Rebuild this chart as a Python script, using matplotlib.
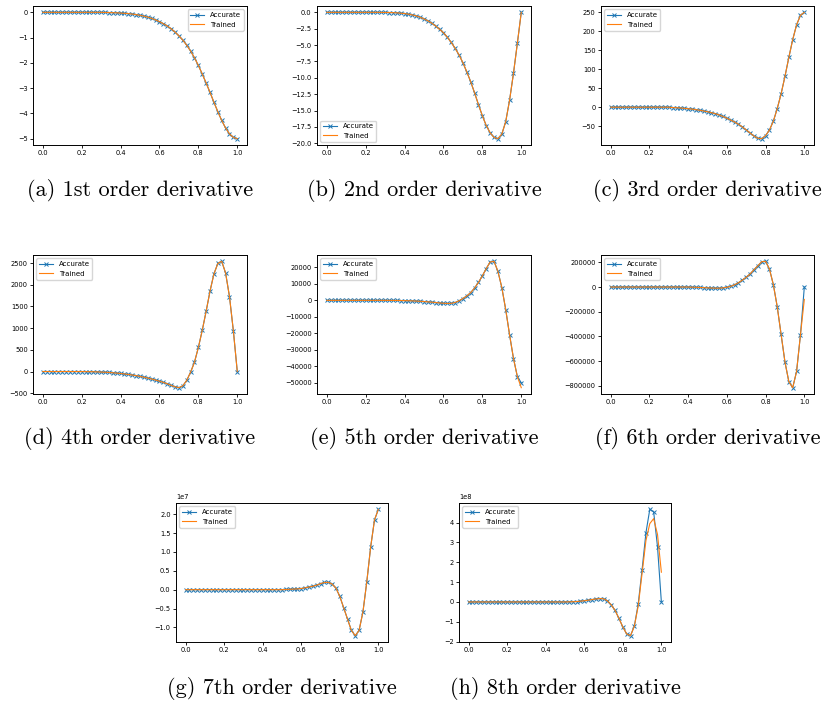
import numpy as np
from matplotlib import pyplot as plt

# x positions of the sampled points (0 .. 1, step 0.02)
x = np.linspace(0, 1, 51)

d1 = [0]*16 + [-0.005, -0.01, -0.015, -0.02, -0.03, -0.04, -0.05, -0.07, -0.09, -0.12,
               -0.15, -0.19, -0.24, -0.30, -0.37, -0.45, -0.54, -0.65, -0.78, -0.93,
               -1.10, -1.30, -1.53, -1.80, -2.10, -2.44, -2.80, -3.17, -3.56, -3.93,
               -4.28, -4.58, -4.81, -4.95, -5.00]

d2 = [0]*14 + [-0.01, -0.02, -0.03, -0.05, -0.08, -0.13, -0.19, -0.28, -0.4, -0.55,
               -0.75, -1.0, -1.3, -1.65, -2.1, -2.6, -3.1, -3.8, -4.6, -5.5,
               -6.5, -7.7, -9.1, -10.6, -12.3, -14.1, -15.8, -17.3, -18.4, -19.1,
               -19.3, -18.6, -16.7, -13.4, -9.3, -4.7, 0.0]

d3 = [0]*16 + [-1, -1.5, -2, -3, -4, -5, -6.5, -8, -10, -12,
               -14.5, -17, -20.5, -24.5, -29, -34, -39, -45, -52, -60,
               -68, -76, -82, -83, -75, -60, -37, -4, 35, 81,
               131, 178, 217, 242, 250]

d4 = [0]*10 + [-1, -2, -3, -5, -8, -12, -16, -21, -28, -36,
               -45, -55, -67, -80, -95, -112, -130, -150, -172, -196,
               -222, -250, -282, -318, -352, -372, -330, -205, -15, 215,
               555, 950, 1390, 1855, 2250, 2490, 2540, 2270, 1725, 935, 0]

d5 = [0]*16 + [-20, -40, -70, -110, -160, -230, -320, -430, -560, -720,
               -900, -1100, -1320, -1550, -1750, -1880, -1800, -1300, -300, 1100,
               2700, 4700, 7500, 10900, 14900, 19300, 23300, 23700, 17600, 7800,
               -5600, -21000, -35300, -46300, -50000]
d5_trained = d5[:-1] + [-53000]

d6 = [0]*21 + [-1000, -2000, -3500, -5000, -6500, -8000, -9000, -9000, -7000, -2000,
               6000, 18000, 35000, 56000, 80000, 106000, 140000, 172000, 205000, 208000,
               145000, 20000, -158000, -382000, -606000, -765000, -814000, -683000, -388000, 0]
d6_trained = d6[:-1] + [-100000]

d7 = [0]*26 + [0.005e7, 0.01e7, 0.015e7, 0.02e7, 0.03e7, 0.05e7, 0.07e7, 0.09e7, 0.12e7, 0.16e7,
               0.19e7, 0.195e7, 0.15e7, 0.04e7, -0.18e7, -0.48e7, -0.78e7, -1.08e7, -1.22e7, -1.08e7,
               -0.59e7, 0.21e7, 1.13e7, 1.85e7, 2.13e7]

d8 = [0]*26 + [0.005e8, 0.01e8, 0.02e8, 0.04e8, 0.06e8, 0.09e8, 0.12e8, 0.15e8, 0.17e8, 0.16e8,
               0.06e8, -0.15e8, -0.43e8, -0.83e8, -1.26e8, -1.61e8, -1.70e8, -1.21e8, -0.09e8, 1.63e8,
               3.49e8, 4.67e8, 4.54e8, 2.78e8, 0.0]
d8_trained = d8[:-7] + [-0.2e8, 1.45e8, 3.1e8, 3.95e8, 4.2e8, 3.4e8, 1.5e8]

accurate = [d1, d2, d3, d4, d5, d6, d7, d8]
trained = [d1, d2, d3, d4, d5_trained, d6_trained, d7, d8_trained]
captions = ['(a) 1st order derivative', '(b) 2nd order derivative', '(c) 3rd order derivative',
            '(d) 4th order derivative', '(e) 5th order derivative', '(f) 6th order derivative',
            '(g) 7th order derivative', '(h) 8th order derivative']
legend_loc = ['upper right', 'lower left', 'upper left', 'upper left',
              'upper left', 'upper left', 'upper left', 'upper left']

# axes boxes in pixels: left, top, right, bottom
boxes = [(33, 6, 247, 145), (317, 6, 531, 145), (601, 6, 814, 145),
         (33, 255, 247, 394), (317, 255, 531, 394), (601, 255, 814, 394),
         (176, 503, 388, 642), (459, 503, 671, 642)]
caption_y = [190, 190, 190, 438, 438, 438, 688, 688]

W, H = 825, 704
plt.rcParams['font.size'] = 4.8
plt.rcParams['legend.fontsize'] = 5.0
plt.rcParams['axes.linewidth'] = 0.7
for ax_ in ['xtick', 'ytick']:
    plt.rcParams[ax_ + '.major.size'] = 2.2
    plt.rcParams[ax_ + '.major.width'] = 0.6
    plt.rcParams[ax_ + '.major.pad'] = 1.6
plt.rcParams['lines.linewidth'] = 0.8
plt.rcParams['lines.markersize'] = 3.2
plt.rcParams['lines.markeredgewidth'] = 0.7

fig = plt.figure(figsize=(W / 100, H / 100), dpi=100)

for i in range(8):
    l, t, r, b = boxes[i]
    ax = fig.add_axes([l / W, 1 - b / H, (r - l) / W, (b - t) / H])
    ax.plot(x, accurate[i], 'C0', marker='x', label='Accurate')
    ax.plot(x, trained[i], 'C1', label='Trained')
    ax.set_xticks([0.0, 0.2, 0.4, 0.6, 0.8, 1.0])
    ax.legend(loc=legend_loc[i])
    fig.text((l + r) / 2 / W, 1 - caption_y[i] / H, captions[i],
             family='cmr10', fontsize=16, ha='center', va='center')

plt.savefig('out.png', dpi=100)
